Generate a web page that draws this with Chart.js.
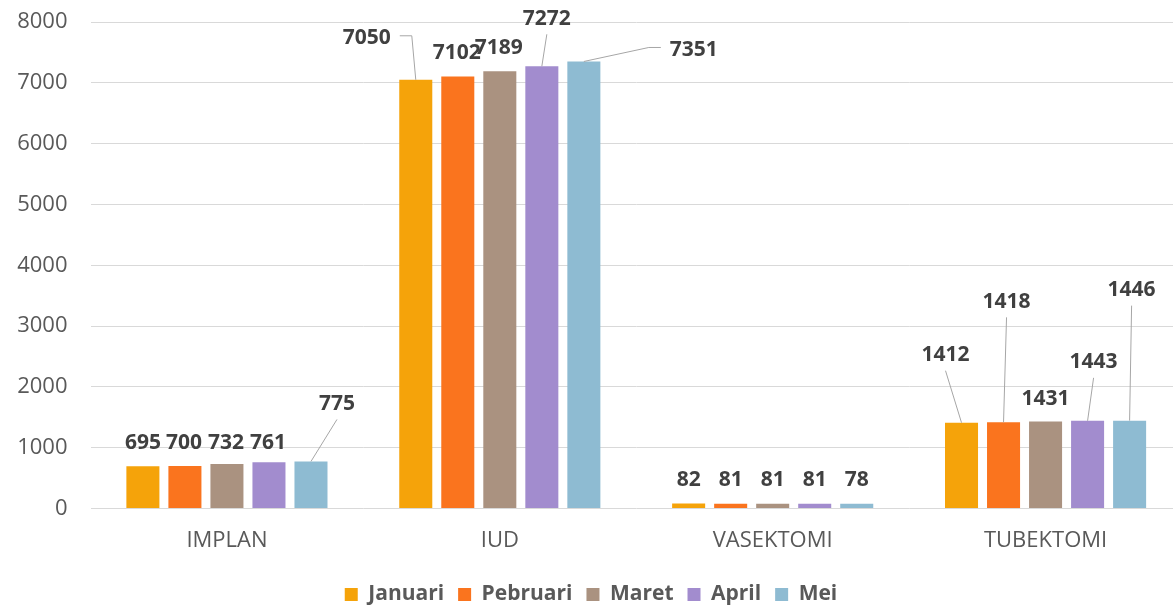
<!DOCTYPE html>
<html>
<head>
<meta charset="utf-8">
<title>KB per metode</title>
<script src="https://cdn.jsdelivr.net/npm/chart.js@4.4.1/dist/chart.umd.min.js"></script>
<style>
    html, body { margin: 0; padding: 0; background: #fff; overflow: hidden; }
    #wrap { width: 1202px; height: 607px; }
</style>
</head>
<body>
<div id="wrap"><canvas id="kbChart" width="1202" height="607"></canvas></div>
<script>
// Data per metode kontrasepsi
const categories = ['IMPLAN', 'IUD', 'VASEKTOMI', 'TUBEKTOMI'];
const months = ['Januari', 'Pebruari', 'Maret', 'April', 'Mei'];
const januari = [695, 7050, 82, 1412];
const pebruari = [700, 7102, 81, 1418];
const maret = [732, 7189, 81, 1431];
const april = [761, 7272, 81, 1443];
const mei = [775, 7351, 78, 1446];
const yMin = 0;
const yMax = 8000;
const yStep = 1000;

const colors = ['#F5A30A', '#FA741E', '#AA9280', '#A28CCE', '#8EBBD2'];

// Posisi label (px relatif ke puncak batang), seperti di gambar asli
const labelOffsets = [
    [[0, -25], [-49, -43], [0, -25], [-16, -69]],
    [[-1, -25], [-1, -25], [0, -25], [3, -122]],
    [[-1, -23], [-1, -25], [0, -25], [0, -24]],
    [[-1, -21], [5, -49], [0, -25], [6, -60]],
    [[26, -59], [110, -13], [0, -25], [2, -132]]
];

const FONT = '"Open Sans", "Liberation Sans", sans-serif';

/**
 * Plugin label data dengan garis penunjuk
 */
const valueLabels = {
    id: 'valueLabels',
    afterDatasetsDraw(chart) {
        const ctx = chart.ctx;
        ctx.save();
        ctx.font = `bold 21px ${FONT}`;
        ctx.textAlign = 'center';
        ctx.textBaseline = 'alphabetic';
        chart.data.datasets.forEach((ds, di) => {
            const meta = chart.getDatasetMeta(di);
            meta.data.forEach((bar, i) => {
                const text = String(ds.data[i]);
                const [dx, dy] = labelOffsets[di][i];
                const cx = bar.x + dx;
                const cy = bar.y + dy;
                const w = ctx.measureText(text).width;

                // garis penunjuk bila label digeser jauh
                if (Math.hypot(dx, dy + 25) > 15) {
                    ctx.strokeStyle = '#a6a6a6';
                    ctx.lineWidth = 1;
                    ctx.beginPath();
                    if (Math.abs(dx) > w * 0.75) {
                        const side = Math.sign(dx);
                        const sx = cx - side * (w / 2 + 9);
                        ctx.moveTo(sx, cy - 1);
                        ctx.lineTo(sx - side * 12, cy - 1);
                    } else {
                        ctx.moveTo(cx, cy + 17);
                    }
                    ctx.lineTo(bar.x, bar.y);
                    ctx.stroke();
                }

                ctx.fillStyle = '#404040';
                ctx.fillText(text, cx, cy + 7.5);
            });
        });
        ctx.restore();
    }
};

const seriesValues = [januari, pebruari, maret, april, mei];

new Chart(document.getElementById('kbChart').getContext('2d'), {
    type: 'bar',
    data: {
        labels: categories,
        datasets: months.map((m, k) => ({
            label: m,
            data: seriesValues[k],
            backgroundColor: colors[k],
            borderWidth: 0,
            categoryPercentage: 0.77,
            barPercentage: 0.786
        }))
    },
    options: {
        responsive: false,
        animation: false,
        layout: { padding: { top: 22, right: 20, bottom: -8, left: 0 } },
        plugins: {
            legend: {
                position: 'bottom',
                labels: {
                    boxWidth: 13,
                    boxHeight: 13,
                    padding: 14,
                    color: '#595959',
                    font: { family: FONT, size: 21, weight: 'bold' }
                }
            },
            tooltip: { enabled: false }
        },
        scales: {
            x: {
                afterFit(scale) { scale.height += 4.5; },
                grid: { display: false },
                border: { display: false },
                ticks: {
                    color: '#595959',
                    padding: 9.5,
                    font: { family: FONT, size: 22, lineHeight: 1.36 }
                }
            },
            y: {
                min: yMin,
                max: yMax,
                afterFit(scale) { scale.width = 90.5; },
                // tick transparan supaya label bergeser tanpa menambah padding atas
                grid: { color: '#d9d9d9', lineWidth: 1, drawTicks: true, tickLength: 23, tickColor: 'rgba(0,0,0,0)' },
                border: { display: false },
                ticks: {
                    stepSize: yStep,
                    color: '#595959',
                    padding: 0,
                    font: { family: FONT, size: 22 },
                    callback: value => String(value)
                }
            }
        }
    },
    plugins: [valueLabels]
});
</script>
</body>
</html>
